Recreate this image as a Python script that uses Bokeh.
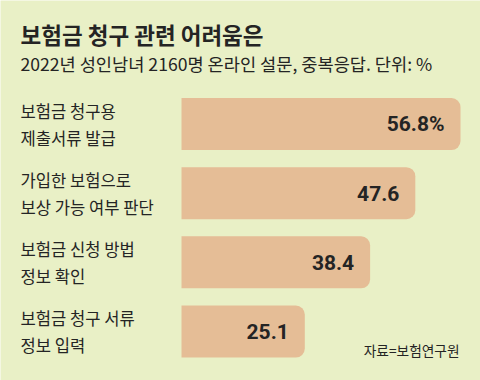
from bokeh.plotting import figure
from bokeh.models import Range1d, Label, ColumnDataSource
from bokeh.core.properties import value
from bokeh.embed import file_html
from bokeh.resources import INLINE

# ---- data ----
title_text = "보험금 청구 관련 어려움은"
subtitle_text = "2022년 성인남녀 2160명 온라인 설문, 중복응답. 단위: %"
source_text = "자료=보험연구원"
cat_line1 = ["보험금 청구용", "가입한 보험으로", "보험금 신청 방법", "보험금 청구 서류"]
cat_line2 = ["제출서류 발급", "보상 가능 여부 판단", "정보 확인", "정보 입력"]
values = [56.8, 47.6, 38.4, 25.1]
value_labels = ["56.8%", "47.6", "38.4", "25.1"]

BG = "#E9F0C6"
BAR = "#E5BD96"
INK = "#242424"
KFONT = "Noto Sans CJK KR"
NUMFONT = "Roboto"

W, H = 480, 380
idx = list(range(len(values)))
src = ColumnDataSource(dict(y=idx, v=values, vl=value_labels, l1=cat_line1, l2=cat_line2,
                            zero=[0] * len(values)))

p = figure(width=W, height=H, output_backend="svg", toolbar_location=None,
           x_range=Range1d(-36.85, 60.87), y_range=Range1d(3.708, -1.7855),
           min_border=0, background_fill_color=BG, border_fill_color=BG)
p.outline_line_color = None
p.axis.visible = False
p.grid.visible = False

p.hbar(y="y", left=0, right="v", height=0.752, source=src, fill_color=BAR,
       line_color=None, border_radius=(0, 9, 9, 0))

p.text(x="v", y="y", text="vl", source=src, x_offset=-16, text_align="right",
       text_baseline="middle", text_font=value(NUMFONT), text_font_style="bold",
       text_font_size="21px", text_color=INK)

p.text(x="zero", y="y", text="l1", source=src, x_offset=-161, y_offset=-13.5,
       text_align="left", text_baseline="middle", text_font=value(KFONT),
       text_font_size="16.6px", text_color=INK)
p.text(x="zero", y="y", text="l2", source=src, x_offset=-161, y_offset=13.5,
       text_align="left", text_baseline="middle", text_font=value(KFONT),
       text_font_size="16.6px", text_color=INK)

p.add_layout(Label(x=20, y=H - 33, x_units="screen", y_units="screen", text=title_text,
                   text_font=KFONT, text_font_style="bold", text_font_size="22.5px",
                   text_color=INK, text_baseline="middle", text_align="left"))
p.add_layout(Label(x=20, y=H - 63, x_units="screen", y_units="screen", text=subtitle_text,
                   text_font=KFONT, text_font_size="17.6px",
                   text_color=INK, text_baseline="middle", text_align="left"))
p.add_layout(Label(x=459, y=H - 349.5, x_units="screen", y_units="screen", text=source_text,
                   text_font=KFONT, text_font_size="13.7px",
                   text_color=INK, text_baseline="middle", text_align="right"))

html = file_html(p, INLINE)
open("out.html", "w").write(html)
